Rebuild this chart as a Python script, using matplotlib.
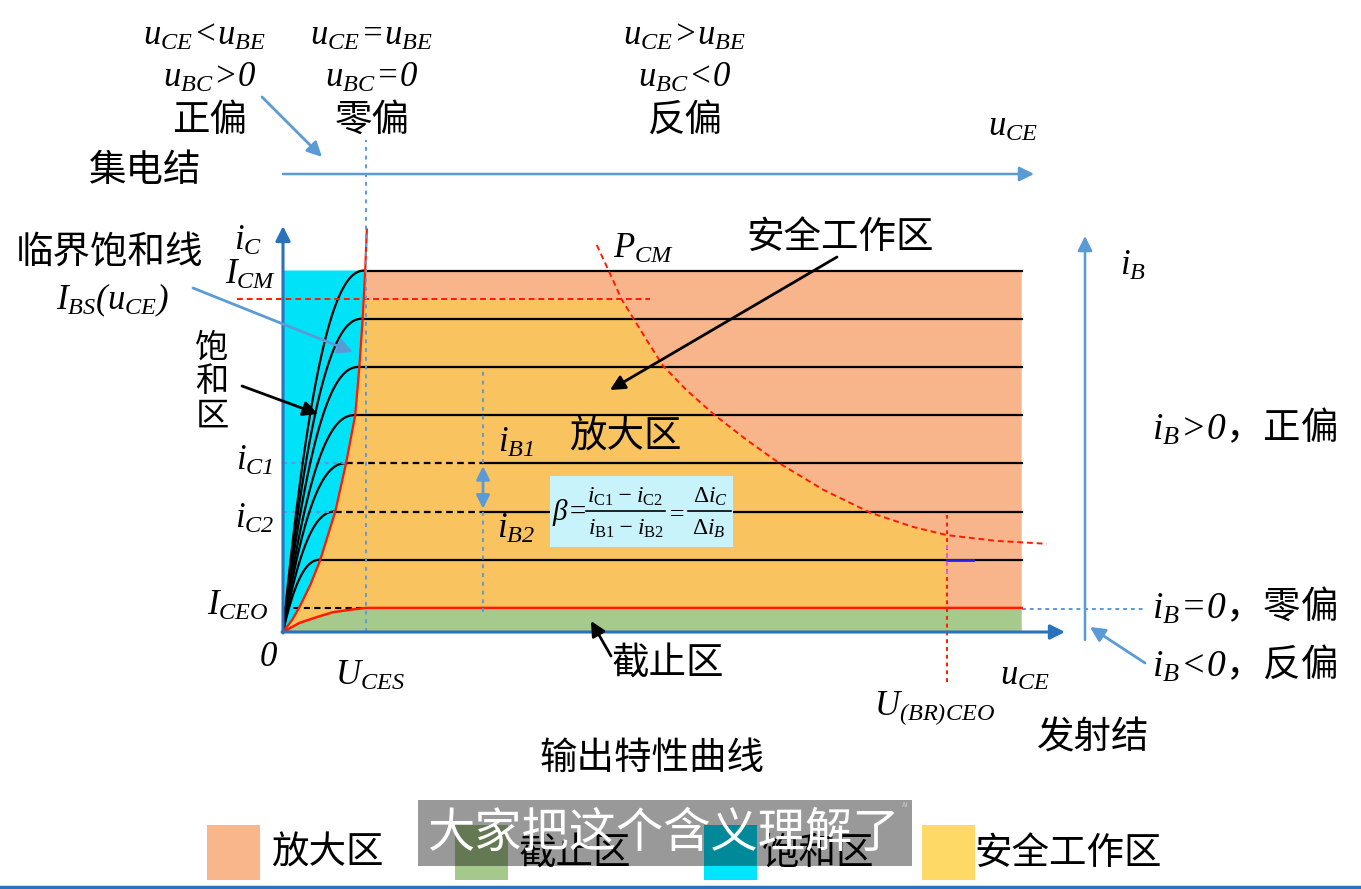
import numpy as np
import matplotlib
matplotlib.use('Agg')
import matplotlib.pyplot as plt
from matplotlib.patches import Polygon, Rectangle

plt.rcParams['font.family'] = ['Noto Sans CJK SC', 'DejaVu Sans']
plt.rcParams['mathtext.fontset'] = 'custom'
plt.rcParams['mathtext.rm'] = 'Liberation Serif:italic'
plt.rcParams['mathtext.it'] = 'Liberation Serif:italic'
plt.rcParams['mathtext.sf'] = 'Liberation Serif'
plt.rcParams['mathtext.bf'] = 'Liberation Serif:bold'
plt.rcParams['mathtext.fallback'] = 'stix'

# ---------------- data ----------------
ib_levels = [1.5, 2.5, 3.5, 4.5, 5.5, 6.5, 7.5]          # iC of each iB curve
knee_u = [0.45, 0.63, 0.76, 0.87, 0.92, 0.96, 0.99]       # uCE where each curve flattens
I_CEO = 0.5
I_CM = 6.9
U_CES = 1.0
U_BR = 8.0
U_MAX = 8.9
I_C1 = 3.5
I_C2 = 2.5
U_IB_MARK = 2.41

sat_u = [0, 0.11, 0.20, 0.33, 0.45, 0.63, 0.76, 0.87, 0.92, 0.96, 0.99, 1.01]
sat_i = [0, 0.25, 0.52, 0.98, 1.5, 2.5, 3.5, 4.5, 5.5, 6.5, 7.5, 8.35]

iceo_u = [0, 0.2, 0.41, 0.6, 0.8, 1.0]
iceo_i = [0, 0.19, 0.31, 0.41, 0.46, 0.5]

pcm_u = [3.78, 3.92, 4.08, 4.22, 4.38, 4.58, 4.86, 5.20, 5.59, 5.99, 6.51, 7.07, 7.59, 8.00, 8.60, 9.20]
pcm_i = [8.03, 7.51, 6.90, 6.51, 6.06, 5.52, 5.02, 4.50, 3.98, 3.49, 2.95, 2.48, 2.18, 2.01, 1.89, 1.83]

legend_labels = ['放大区', '截止区', '饱和区', '安全工作区']
legend_colors = ['#F9B68A', '#A5C88B', '#00E5FF', '#FFD966']

C_SALMON = '#F8B58B'
C_YELLOW = '#F9C35F'
C_GREEN = '#A6C98C'
C_CYAN = '#00E2F8'
C_AX = '#2A72BC'
C_LB = '#5B9BD5'
C_RED = '#FF1A00'

# ---------------- figure ----------------
fig = plt.figure(figsize=(13.61, 8.89), dpi=100)
ax = fig.add_axes([0, 0, 1, 1])
SX, SY, OX, OY = 83.0, 48.2, 283.0, 632.0
ax.set_xlim(-OX / SX, (1361 - OX) / SX)
ax.set_ylim((OY - 889) / SY, OY / SY)
ax.axis('off')
fig.patch.set_facecolor('white')


def P(px, py):
    return ((px - OX) / SX, (OY - py) / SY)


sat_u_a = np.array(sat_u)
sat_i_a = np.array(sat_i)
m75 = sat_i_a <= 7.5
# salmon
salmon = list(zip(sat_u_a[m75], sat_i_a[m75])) + [(U_MAX, 7.5), (U_MAX, I_CEO)] + \
    list(zip(iceo_u[::-1], iceo_i[::-1]))
ax.add_patch(Polygon(salmon, closed=True, fc=C_SALMON, ec='none', zorder=1))
# yellow (safe operating area)
u_icm_sat = np.interp(I_CM, sat_i_a, sat_u_a)
mi = sat_i_a < I_CM
pcm_u_a = np.array(pcm_u)
pcm_i_a = np.array(pcm_i)
mp = (pcm_i_a <= I_CM) & (pcm_u_a <= U_BR)
yellow = list(zip(sat_u_a[mi], sat_i_a[mi])) + [(u_icm_sat, I_CM)] + \
    list(zip(pcm_u_a[mp], pcm_i_a[mp])) + [(U_BR, I_CEO)] + \
    list(zip(iceo_u[::-1], iceo_i[::-1]))
ax.add_patch(Polygon(yellow, closed=True, fc=C_YELLOW, ec='none', zorder=1.1))
# green (cut-off)
green = list(zip(iceo_u, iceo_i)) + [(U_MAX, I_CEO), (U_MAX, 0)]
ax.add_patch(Polygon(green, closed=True, fc=C_GREEN, ec='none', zorder=1.2))
# cyan (saturation)
cyan = list(zip(sat_u_a[m75], sat_i_a[m75])) + [(0, 7.5)]
ax.add_patch(Polygon(cyan, closed=True, fc=C_CYAN, ec='none', zorder=1.2))

# output characteristic curves
for L, xk in zip(ib_levels, knee_u):
    u = np.linspace(0, xk, 60)
    ax.plot(u, L * (1 - (1 - u / xk) ** 2.3), color='black', lw=1.6, zorder=3)
    if L in (I_C1, I_C2):
        ax.plot([0, xk], [L, L], color=C_LB, lw=1.5, ls=(0, (2, 2)), zorder=3)
        ax.plot([xk, U_IB_MARK], [L, L], color='black', lw=1.6, ls=(0, (3, 2)), zorder=3)
        ax.plot([U_IB_MARK, U_MAX], [L, L], color='black', lw=1.6, zorder=3)
    else:
        ax.plot([xk, U_MAX], [L, L], color='black', lw=1.6, zorder=3)

# ICEO
ax.plot(iceo_u + [U_MAX], iceo_i + [I_CEO], color=C_RED, lw=1.8, zorder=3.5)
ax.plot([0, U_CES], [I_CEO, I_CEO], color='black', lw=1.5, ls=(0, (3, 2)), zorder=3)
# critical saturation line
ax.plot(sat_u, sat_i, color=C_RED, lw=1.6, zorder=3.5)
# ICM
x0, _ = P(237, 0)
x1, _ = P(650, 0)
ax.plot([x0, x1], [I_CM, I_CM], color=C_RED, lw=1.4, ls=(0, (3, 2)), zorder=3.5)
# PCM
ax.plot(pcm_u, pcm_i, color=C_RED, lw=1.4, ls=(0, (3, 2)), zorder=3.5)
# U(BR)CEO
ax.plot([U_BR, U_BR], [P(0, 682)[1], P(0, 515)[1]], color=C_RED, lw=1.4, ls=(0, (2, 2)), zorder=3.5)
ax.plot([U_BR, P(973, 0)[0]], [1.5, 1.5], color='#2222EE', lw=2, zorder=3.6)
ax.plot([U_BR, U_BR], [1.2, 1.8], color='#E060E0', lw=1.5, ls=(0, (2, 2)), zorder=3.6)

# UCES dotted
ax.plot([U_CES, U_CES], [0, P(0, 140)[1]], color=C_LB, lw=1.4, ls=(0, (2, 2.5)), zorder=3.6)
# iB marker
ax.plot([U_IB_MARK, U_IB_MARK], [P(0, 612)[1], P(0, 370)[1]], color=C_LB, lw=1.4, ls=(0, (2, 2.5)), zorder=3.6)
ax.annotate('', xy=(U_IB_MARK, I_C2), xytext=(U_IB_MARK, I_C1),
            arrowprops=dict(arrowstyle='<|-|>', color=C_LB, lw=2, mutation_scale=20), zorder=4)
# iB=0 dotted
ax.plot([U_MAX, P(1143, 0)[0]], [P(0, 609)[1]] * 2, color=C_LB, lw=1.4, ls=(0, (2, 2)), zorder=3)

# axes
def arrow(p0, p1, color, lw, ms=22, style='-|>'):
    ax.annotate('', xy=P(*p1), xytext=P(*p0),
                arrowprops=dict(arrowstyle=style, color=color, lw=lw, mutation_scale=ms,
                                shrinkA=0, shrinkB=0), zorder=5)

arrow((283, 633), (283, 226), C_AX, 2.2)
arrow((282, 632), (1065, 632), C_AX, 2.2)
arrow((283, 174), (1034, 174), C_LB, 1.8)
arrow((1085, 640), (1085, 236), C_LB, 1.8)
arrow((262, 97), (322, 157), C_LB, 2.0)
arrow((193, 288), (353, 352), C_LB, 2.0)
arrow((242, 386), (318, 414), 'black', 2.0)
arrow((837, 257), (610, 390), 'black', 2.0)
arrow((611, 656), (591, 621), 'black', 2.0)
arrow((1145, 663), (1090, 627), C_LB, 2.0)


# texts
def T(px, py, s, fs=27, z=6, **kw):
    ax.text(*P(px, py), s, fontsize=fs, ha='center', va='center', zorder=z, **kw)


# formula box (built from pieces so the fraction parts keep a readable size)
bx0, by0 = P(550, 547)
bx1, by1 = P(733, 476)
ax.add_patch(Rectangle((bx0, by0), bx1 - bx0, by1 - by0, fc='#C8F3FB', ec='none', zorder=4))
T(569, 512, r'$\beta\!=$', 21, 5)
T(625, 497, r'$i_{\mathsf{C1}}-i_{\mathsf{C2}}$', 17, 5)
T(626, 529, r'$i_{\mathsf{B1}}-i_{\mathsf{B2}}$', 17, 5)
ax.plot([P(586, 0)[0], P(665, 0)[0]], [P(0, 511)[1]] * 2, color='black', lw=1.2, zorder=5)
T(675, 513, r'$=$', 19, 5)
T(710, 496, r'$\mathsf{\Delta}i_C$', 17, 5)
T(709, 529, r'$\mathsf{\Delta}i_B$', 17, 5)
ax.plot([P(688, 0)[0], P(731, 0)[0]], [P(0, 511)[1]] * 2, color='black', lw=1.2, zorder=5)

M = 25
T(205, 35, r'$u_{CE}\!<\!u_{BE}$', M)
T(210, 77, r'$u_{BC}\!>\!0$', M)
T(210, 120, '正偏')
T(145, 170, '集电结')
T(372, 35, r'$u_{CE}\!=\!u_{BE}$', M)
T(372, 77, r'$u_{BC}\!=\!0$', M)
T(372, 120, '零偏')
T(685, 35, r'$u_{CE}\!>\!u_{BE}$', M)
T(685, 77, r'$u_{BC}\!<\!0$', M)
T(685, 120, '反偏')
T(1013, 126, r'$u_{CE}$', M)
T(248, 240, r'$i_C$', M)
T(251, 274, r'$I_{CM}$', M)
T(110, 252, '临界饱和线')
T(112, 300, r'$I_{BS}(u_{CE})$', M)
T(212, 348, '饱', 24)
T(212, 382, '和', 24)
T(212, 416, '区', 24)
T(255, 460, r'$i_{C1}$', M)
T(255, 518, r'$i_{C2}$', M)
T(238, 605, r'$I_{CEO}$', M)
T(268, 657, r'$0$', M)
T(370, 675, r'$U_{CES}$', M)
T(643, 248, r'$P_{CM}$', M)
T(840, 237, '安全工作区')
T(625, 437, '放大区')
T(516, 442, r'$i_{B1}$', M)
T(516, 528, r'$i_{B2}$', M)
T(668, 663, '截止区')
T(1025, 675, r'$u_{CE}$', M)
T(935, 708, r'$U_{(BR)CEO}$', M)
T(1093, 738, '发射结')
T(652, 758, '输出特性曲线')
T(1133, 265, r'$i_B$', M)
T(1245, 428, r'$i_B\!>\!0$，正偏')
T(1245, 607, r'$i_B\!=\!0$，零偏')
T(1245, 665, r'$i_B\!<\!0$，反偏')

# legend
sq_x = [207, 455, 704, 922]
lab_x = [327, 575, 818, 1068]
for sx, lx, lab, col in zip(sq_x, lab_x, legend_labels, legend_colors):
    a0 = P(sx, 880)
    a1 = P(sx + 53, 825)
    ax.add_patch(Rectangle(a0, a1[0] - a0[0], a1[1] - a0[1], fc=col, ec='none', zorder=5))
    T(lx, 853, lab, 27)

# subtitle overlay
s0 = P(418, 866)
s1 = P(912, 800)
ax.add_patch(Rectangle(s0, s1[0] - s0[0], s1[1] - s0[1], fc='black', alpha=0.4, ec='none', zorder=7))
ax.text(*P(664, 834), '大家把这个含义理解了', fontsize=34, color='white', ha='center', va='center', zorder=8)
ax.text(*P(905, 805), 'AI', fontsize=5, color='#CCCCCC', ha='center', va='center', zorder=8)

# bottom edge line
ax.plot([P(0, 0)[0], P(1361, 0)[0]], [P(0, 887)[1]] * 2, color=C_AX, lw=2.5, zorder=9)

fig.savefig('out.png', dpi=100)
